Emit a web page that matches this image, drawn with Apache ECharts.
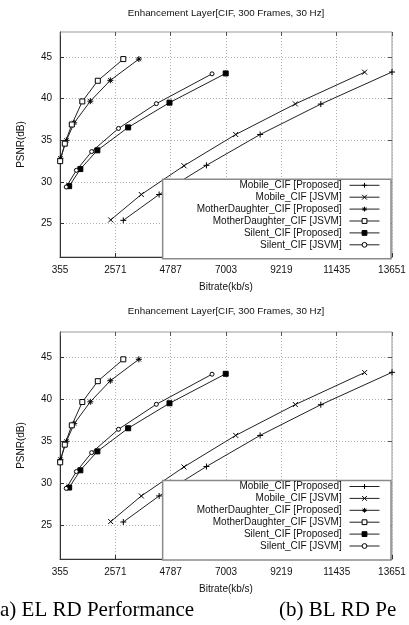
<!DOCTYPE html>
<html><head><meta charset="utf-8">
<script src="https://cdn.jsdelivr.net/npm/echarts@6/dist/echarts.min.js"></script>
<style>html,body{margin:0;padding:0;background:#fff}#c{width:409px;height:625px}</style>
</head><body><div id="c"></div>
<script>
// ---- data ----
const chartTitle = 'Enhancement Layer[CIF, 300 Frames, 30 Hz]';
const xAxisName = 'Bitrate(kb/s)';
const yAxisName = 'PSNR(dB)';
const xTicks = [355, 2571, 4787, 7003, 9219, 11435, 13651];
const yTicks = [25, 30, 35, 40, 45];
const xRange = [355, 13651];
const yRange = [21, 48];
const seriesNames = [
  'Mobile_CIF [Proposed]',
  'Mobile_CIF [JSVM]',
  'MotherDaughter_CIF [Proposed]',
  'MotherDaughter_CIF [JSVM]',
  'Silent_CIF [Proposed]',
  'Silent_CIF [JSVM]'
];
const mobileProposed = [[2890,25.4],[4325,28.5],[6220,32.0],[8370,35.7],[10800,39.35],[13651,43.2]];
const mobileJSVM = [[2385,25.45],[3611,28.5],[5320,31.95],[7392,35.7],[9780,39.37],[12555,43.18]];
const motherProposed = [[372,32.85],[615,35.0],[925,37.1],[1570,39.7],[2370,42.2],[3513,44.75]];
const motherJSVM = [[362,32.5],[547,34.6],[828,36.9],[1248,39.67],[1869,42.15],[2890,44.75]];
const silentProposed = [[722,29.5],[1170,31.55],[1851,33.8],[3085,36.55],[4740,39.52],[6991,43.03]];
const silentJSVM = [[603,29.4],[1010,31.4],[1623,33.65],[2698,36.43],[4214,39.4],[6443,42.98]];
const captionLeft = 'a) EL RD Performance';
const captionRight = '(b) BL RD Pe';

// ---- styling / layout ----
const FONT = 'Liberation Sans, Arial, Helvetica, sans-serif';
const seriesData = [mobileProposed, mobileJSVM, motherProposed, motherJSVM, silentProposed, silentJSVM];
const symbols = [
  {symbol: 'path://M0,5H10M5,0V10', size: 6, fill: '#000'},
  {symbol: 'path://M0,0L10,10M10,0L0,10', size: 5, fill: '#000'},
  {symbol: 'path://M0,5H10M5,0V10M1.5,1.5L8.5,8.5M8.5,1.5L1.5,8.5', size: 6, fill: '#000'},
  {symbol: 'rect', size: 5, fill: '#fff'},
  {symbol: 'rect', size: 5, fill: '#000'},
  {symbol: 'circle', size: 4, fill: '#fff'}
];
const grids = [
  {left: 60, top: 32, width: 332, height: 225},
  {left: 60, top: 332, width: 332, height: 227}
];
const legendTops = [179.3, 480.5];
const titleTops = [8, 306.5];

const option = {
  animation: false,
  backgroundColor: '#fff',
  title: titleTops.map(t => ({
    text: chartTitle, left: 226, top: t, textAlign: 'center', padding: 0,
    textStyle: {fontFamily: FONT, fontSize: 9.8, fontWeight: 'normal', color: '#111'}
  })),
  grid: grids.map(g => Object.assign({show: true, borderColor: '#999', borderWidth: 1, backgroundColor: 'transparent', containLabel: false, outerBoundsMode: 'none'}, g)),
  legend: legendTops.map(t => ({
    data: seriesNames, orient: 'vertical', align: 'right', right: 18, top: t,
    itemWidth: 30, itemHeight: 6, itemGap: 1.9,
    padding: [1, 11, 9, 34],
    backgroundColor: '#fff', borderColor: '#8a8a8a', borderWidth: 1.5, borderRadius: 0,
    selectedMode: false,
    lineStyle: {width: 1, color: '#222'},
    itemStyle: {borderWidth: 1},
    formatter: n => n + ' ',
    textStyle: {fontFamily: FONT, fontSize: 10, color: '#111'}
  })),
  xAxis: [],
  yAxis: [],
  series: [],
  graphic: [
    {type: 'text', left: 0, top: 600, style: {text: captionLeft, font: '21px "Liberation Serif", "Times New Roman", serif', fill: '#000'}},
    {type: 'text', left: 279, top: 600, style: {text: captionRight, font: '21px "Liberation Serif", "Times New Roman", serif', fill: '#000'}}
  ]
};

const plain = v => String(Math.round(v));

grids.forEach((g, gi) => {
  option.xAxis.push({
    type: 'value', gridIndex: gi, min: xRange[0], max: xRange[1], position: 'bottom',
    name: xAxisName, nameLocation: 'middle', nameGap: 25,
    nameTextStyle: {fontFamily: FONT, fontSize: 10, color: '#111'},
    axisLine: {show: true, lineStyle: {color: '#333', width: 1}},
    axisTick: {show: true, inside: true, length: 4, customValues: xTicks, lineStyle: {color: '#333'}},
    axisLabel: {customValues: xTicks, formatter: plain, margin: 8, fontFamily: FONT, fontSize: 10, color: '#111'},
    splitLine: {show: true, lineStyle: {color: '#b0b0b0', type: [1, 2], width: 1}}
  });
  option.xAxis.push({
    type: 'value', gridIndex: gi, min: xRange[0], max: xRange[1], position: 'top',
    axisLine: {show: false},
    axisTick: {show: true, inside: true, length: 4, customValues: xTicks, lineStyle: {color: '#555'}},
    axisLabel: {show: false},
    splitLine: {show: false}
  });
  option.yAxis.push({
    type: 'value', gridIndex: gi, min: yRange[0], max: yRange[1], position: 'left',
    name: yAxisName, nameLocation: 'middle', nameGap: 34, nameRotate: 90,
    nameTextStyle: {fontFamily: FONT, fontSize: 10, color: '#111'},
    axisLine: {show: true, lineStyle: {color: '#333', width: 1}},
    axisTick: {show: true, inside: true, length: 4, customValues: yTicks, lineStyle: {color: '#333'}},
    axisLabel: {customValues: yTicks, formatter: plain, margin: 8, fontFamily: FONT, fontSize: 10, color: '#111'},
    splitLine: {show: true, lineStyle: {color: '#b0b0b0', type: [1, 2], width: 1}}
  });
  option.yAxis.push({
    type: 'value', gridIndex: gi, min: yRange[0], max: yRange[1], position: 'right',
    axisLine: {show: false},
    axisTick: {show: true, inside: true, length: 4, customValues: yTicks, lineStyle: {color: '#555'}},
    axisLabel: {show: false},
    splitLine: {show: false}
  });
  seriesNames.forEach((name, si) => {
    const s = symbols[si];
    option.series.push({
      type: 'line', name: name, xAxisIndex: gi * 2, yAxisIndex: gi * 2,
      data: seriesData[si], showSymbol: true, symbol: s.symbol, symbolSize: s.size,
      lineStyle: {color: '#222', width: 1},
      itemStyle: {color: s.fill, borderColor: '#000', borderWidth: 1},
      emphasis: {disabled: true}, silent: true, clip: true, z: 3
    });
  });
});

const chart = echarts.init(document.getElementById('c'), null, {renderer: 'canvas'});
chart.setOption(option);
</script></body></html>
